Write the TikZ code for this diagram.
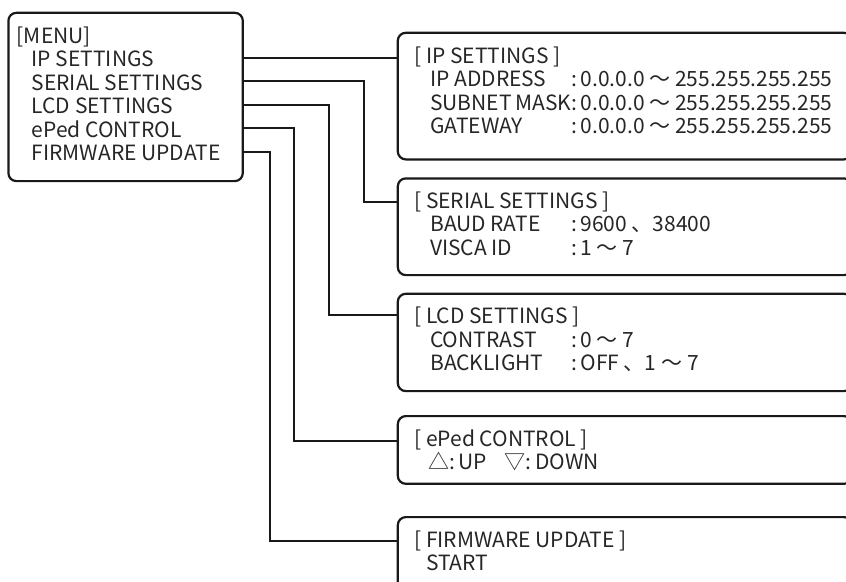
\documentclass[tikz,border=0pt]{standalone}
\usepackage{fontspec}
\setmainfont{Noto Sans CJK JP}
\usepackage{tikz}
\newcommand{\panelfont}{\fontsize{21}{23.5}\selectfont}
\tikzset{
  panel/.style={draw=black!90, line width=2.2pt, rounded corners=8pt, anchor=north west, inner sep=0pt},
  wire/.style={draw=black!90, line width=2pt},
  menuitem/.style={anchor=base west, inner sep=0pt, text height=18pt, text depth=0pt, font=\panelfont, text=black!85},
  paneltext/.style={anchor=base west, inner sep=0pt, font=\panelfont, text=black!85},
}

\begin{document}
\begin{tikzpicture}[x=1pt, y=-1pt]
\useasboundingbox (0,0) rectangle (846,581);
\node[panel, minimum width=234.4pt, minimum height=168.3pt] (menu) at (7.3,11.7) {};
\node[paneltext] (mtitle) at (16.7,43) {[MENU]};
\node[menuitem] (mip) at (31.5,66.5) {IP SETTINGS};
\node[menuitem] (mserial) at (31.5,90) {SERIAL SETTINGS};
\node[menuitem] (mlcd) at (31.5,113.5) {LCD SETTINGS};
\node[menuitem] (meped) at (31.5,137) {ePed CONTROL};
\node[menuitem] (mfirm) at (31.5,160.5) {FIRMWARE UPDATE};
\node[panel, minimum width=454.3pt, minimum height=126.6pt] (ipbox) at (396.7,31.7) {};
\node[panel, minimum width=454.3pt, minimum height=96.7pt] (serialbox) at (396.7,177.3) {};
\node[panel, minimum width=454.3pt, minimum height=97.3pt] (lcdbox) at (396.7,292.7) {};
\node[panel, minimum width=454.3pt, minimum height=67.7pt] (epedbox) at (396.7,415) {};
\node[panel, minimum width=454.3pt, minimum height=80pt] (firmbox) at (396.7,516) {};
\node[paneltext] (iptitle) at (414,63) {[ IP SETTINGS ]};
\node[paneltext] (ipbody) at (430,86.5) {\begin{tabular}[t]{@{}p{141pt}@{}l@{}}
  IP ADDRESS & :\,0.0.0.0 〜 255.255.255.255\\
  SUBNET MASK & :\,0.0.0.0 〜 255.255.255.255\\
  GATEWAY & :\,0.0.0.0 〜 255.255.255.255
\end{tabular}};
\node[paneltext] (serialtitle) at (414,208) {[ SERIAL SETTINGS ]};
\node[paneltext] (serialbody) at (430,231.5) {\begin{tabular}[t]{@{}p{141pt}@{}l@{}}
  BAUD RATE & :\,9600 、38400\\
  VISCA ID & :\,1 〜 7
\end{tabular}};
\node[paneltext] (lcdtitle) at (414,323.5) {[ LCD SETTINGS ]};
\node[paneltext] (lcdbody) at (430,347) {\begin{tabular}[t]{@{}p{141pt}@{}l@{}}
  CONTRAST & :\,0 〜 7\\
  BACKLIGHT & :\,OFF 、1 〜 7
\end{tabular}};
\node[paneltext] (epedtitle) at (414,446) {[ ePed CONTROL ]};
\node[paneltext] (epedbody) at (428,469.5) {△:\,UP\hspace{18pt}▽:\,DOWN};
\node[paneltext] (firmtitle) at (414,547) {[ FIRMWARE UPDATE ]};
\node[paneltext] (firmbody) at (426,570.5) {START};
\draw[wire] (menu.east |- mip) -- (mip -| ipbox.west);
\draw[wire] (menu.east |- mserial) -- ++(120.3,0) |- ([yshift=-25pt]serialbox.north west);
\draw[wire] (menu.east |- mlcd) -- ++(85,0) |- ([yshift=-22.3pt]lcdbox.north west);
\draw[wire] (menu.east |- meped) -- ++(50,0) |- ([yshift=-25.7pt]epedbox.north west);
\draw[wire] (menu.east |- mfirm) -- ++(26,0) |- ([yshift=-24.7pt]firmbox.north west);
\end{tikzpicture}
\end{document}
